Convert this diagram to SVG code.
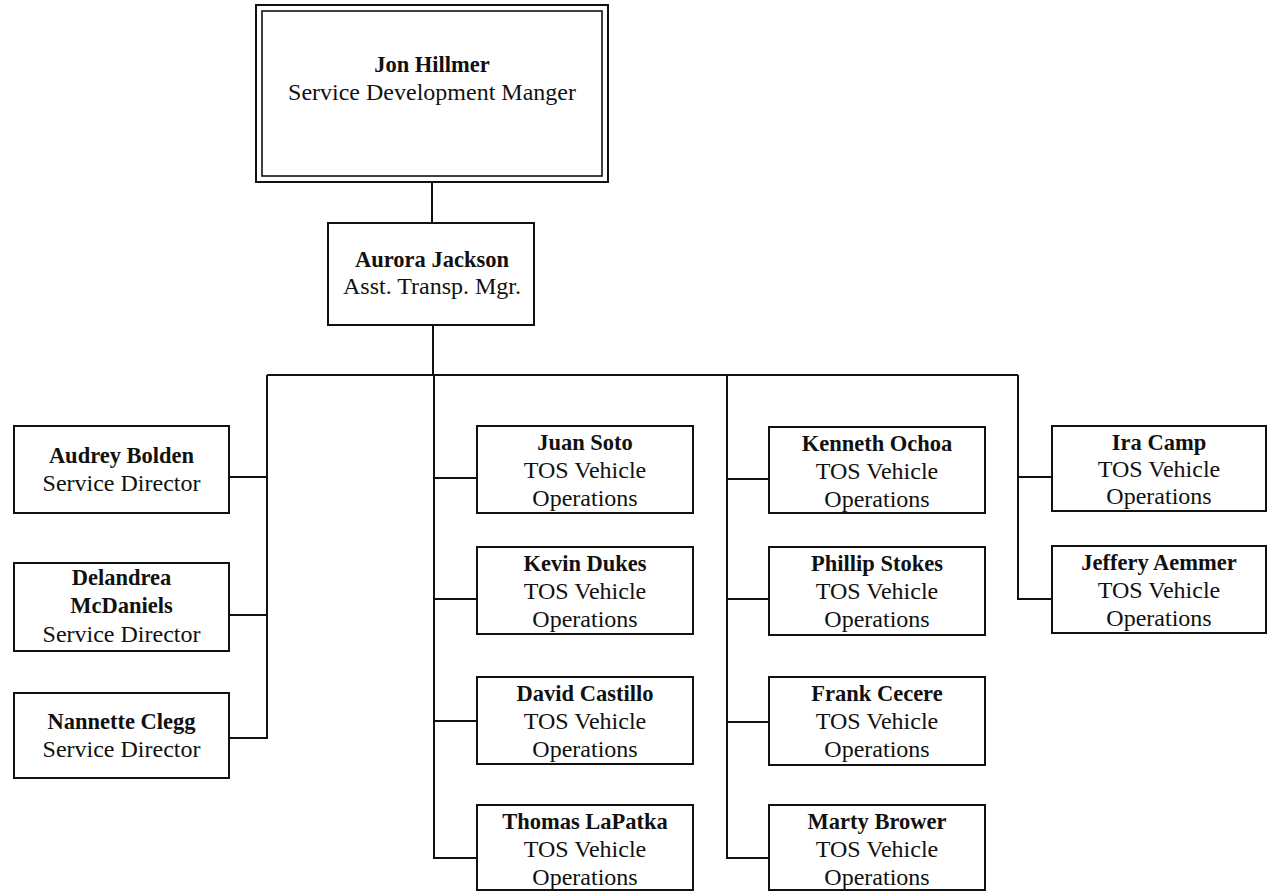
<svg xmlns="http://www.w3.org/2000/svg" width="1268" height="891" viewBox="0 0 1268 891">
<style>
.box{fill:#fff;stroke:#111;stroke-width:2}
.in{fill:none;stroke:#111;stroke-width:1.6}
.c{fill:none;stroke:#111;stroke-width:2}
text{font-family:"Liberation Serif","Times New Roman",serif;fill:#111;text-anchor:middle}
.n{font-weight:bold;font-size:22.5px}
.t{font-size:24px}
</style>
<rect width="1268" height="891" fill="#fff"/>
<g id="connectors">
<path class="c" d="M432 182V223M433 325V375M267 375H1018"/>
<path class="c" d="M267 375V738H229M267 477H229M267 615H229"/>
<path class="c" d="M434 375V858H477M434 478H477M434 599H477M434 721H477"/>
<path class="c" d="M727 375V858H769M727 479H769M727 599H769M727 722H769"/>
<path class="c" d="M1018 375V599H1052M1018 477H1052"/>
</g>
<g id="jon">
<rect class="box" x="256" y="5" width="352" height="177"/>
<rect class="in" x="262" y="11" width="340" height="165"/>
<text class="n" x="432" y="72">Jon Hillmer</text>
<text class="t" x="432" y="100">Service Development Manger</text>
</g>
<g id="aurora">
<rect class="box" x="328" y="223" width="206" height="102"/>
<text class="n" x="432" y="267">Aurora Jackson</text>
<text class="t" x="432" y="294">Asst. Transp. Mgr.</text>
</g>
<g id="audrey">
<rect class="box" x="14" y="426" width="215" height="87"/>
<text class="n" x="121.5" y="463">Audrey Bolden</text>
<text class="t" x="121.5" y="491">Service Director</text>
</g>
<g id="delandrea">
<rect class="box" x="14" y="563" width="215" height="88"/>
<text class="n" x="121.5" y="585">Delandrea</text>
<text class="n" x="121.5" y="613">McDaniels</text>
<text class="t" x="121.5" y="642">Service Director</text>
</g>
<g id="nannette">
<rect class="box" x="14" y="693" width="215" height="85"/>
<text class="n" x="121.5" y="729">Nannette Clegg</text>
<text class="t" x="121.5" y="757">Service Director</text>
</g>
<g id="juan">
<rect class="box" x="477" y="426" width="216" height="87"/>
<text class="n" x="585" y="450">Juan Soto</text>
<text class="t" x="585" y="478">TOS Vehicle</text>
<text class="t" x="585" y="506">Operations</text>
</g>
<g id="kevin">
<rect class="box" x="477" y="547" width="216" height="87"/>
<text class="n" x="585" y="571">Kevin Dukes</text>
<text class="t" x="585" y="599">TOS Vehicle</text>
<text class="t" x="585" y="627">Operations</text>
</g>
<g id="david">
<rect class="box" x="477" y="677" width="216" height="87"/>
<text class="n" x="585" y="701">David Castillo</text>
<text class="t" x="585" y="729">TOS Vehicle</text>
<text class="t" x="585" y="757">Operations</text>
</g>
<g id="thomas">
<rect class="box" x="477" y="805" width="216" height="85"/>
<text class="n" x="585" y="829">Thomas LaPatka</text>
<text class="t" x="585" y="857">TOS Vehicle</text>
<text class="t" x="585" y="885">Operations</text>
</g>
<g id="kenneth">
<rect class="box" x="769" y="427" width="216" height="86"/>
<text class="n" x="877" y="451">Kenneth Ochoa</text>
<text class="t" x="877" y="479">TOS Vehicle</text>
<text class="t" x="877" y="507">Operations</text>
</g>
<g id="phillip">
<rect class="box" x="769" y="547" width="216" height="88"/>
<text class="n" x="877" y="571">Phillip Stokes</text>
<text class="t" x="877" y="599">TOS Vehicle</text>
<text class="t" x="877" y="627">Operations</text>
</g>
<g id="frank">
<rect class="box" x="769" y="677" width="216" height="88"/>
<text class="n" x="877" y="701">Frank Cecere</text>
<text class="t" x="877" y="729">TOS Vehicle</text>
<text class="t" x="877" y="757">Operations</text>
</g>
<g id="marty">
<rect class="box" x="769" y="805" width="216" height="85"/>
<text class="n" x="877" y="829">Marty Brower</text>
<text class="t" x="877" y="857">TOS Vehicle</text>
<text class="t" x="877" y="885">Operations</text>
</g>
<g id="ira">
<rect class="box" x="1052" y="426" width="214" height="85"/>
<text class="n" x="1159" y="450">Ira Camp</text>
<text class="t" x="1159" y="477">TOS Vehicle</text>
<text class="t" x="1159" y="504">Operations</text>
</g>
<g id="jeffery">
<rect class="box" x="1052" y="546" width="214" height="87"/>
<text class="n" x="1159" y="570">Jeffery Aemmer</text>
<text class="t" x="1159" y="598">TOS Vehicle</text>
<text class="t" x="1159" y="626">Operations</text>
</g>
</svg>
